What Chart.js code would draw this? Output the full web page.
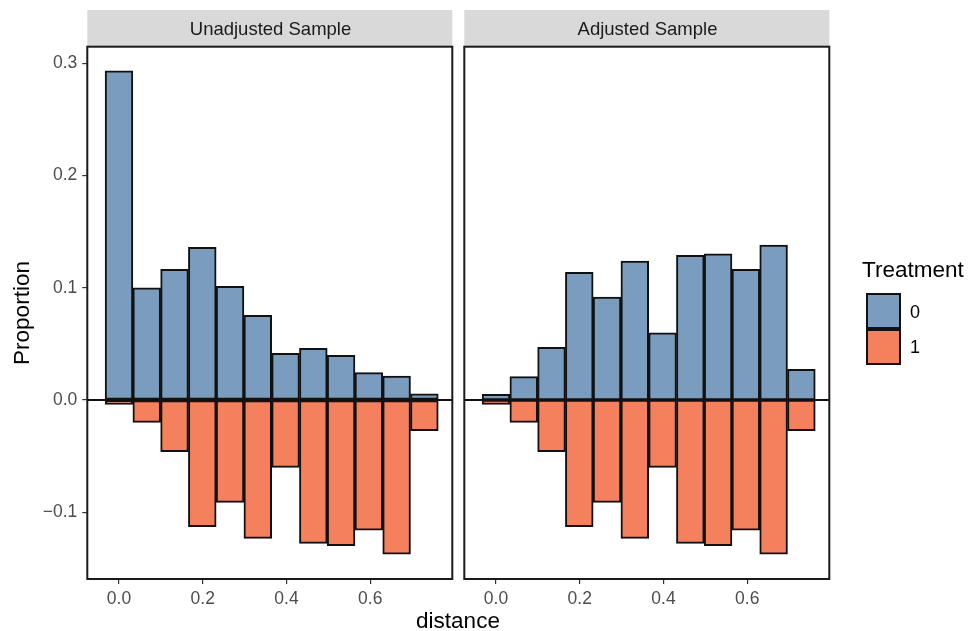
<!DOCTYPE html>
<html>
<head>
<meta charset="utf-8">
<script src="https://cdn.jsdelivr.net/npm/chart.js@4.4.1/dist/chart.umd.min.js"></script>
<style>
  body { margin: 0; background: #fff; }
  #wrap { position: relative; width: 971px; height: 631px; font-family: "Liberation Sans", Arial, sans-serif; }
  canvas { position: absolute; top: 0; }
  .txt { position: absolute; display: flex; align-items: center; justify-content: center; white-space: nowrap; }
  .strip { top: 10px; height: 37px; font-size: 18.5px; color: #1a1a1a; }
  .key { position: absolute; left: 866px; width: 35px; height: 36px; box-sizing: border-box; border: 2px solid #111; }
</style>
</head>
<body>
<div id="wrap">
  <canvas id="left" width="460" height="631" style="left:0"></canvas>
  <canvas id="right" width="511" height="631" style="left:460px"></canvas>

  <div class="txt strip" style="left:88px; width:365px">Unadjusted Sample</div>
  <div class="txt strip" style="left:465px; width:365px">Adjusted Sample</div>

  <div class="txt" style="left:-38px; top:298px; width:120px; height:30px; font-size:22.5px; transform:rotate(-90deg)">Proportion</div>
  <div class="txt" style="left:398px; top:607px; width:120px; height:28px; font-size:22.5px">distance</div>

  <div class="txt" style="left:862px; top:255px; height:30px; font-size:22.5px">Treatment</div>
  <div class="key" style="top:293px; background:#7A9DBF"></div>
  <div class="key" style="top:329px; background:#F5805E"></div>
  <div class="txt" style="left:910px; top:300px; height:24px; font-size:18px">0</div>
  <div class="txt" style="left:910px; top:335px; height:24px; font-size:18px">1</div>
</div>

<script>
// bin centres on the distance axis
const binCenters = [0, 0.0663, 0.1326, 0.1989, 0.2652, 0.3315, 0.3978, 0.4641, 0.5304, 0.5967, 0.6630, 0.7293];

// proportions per bin (treated drawn below zero)
const unadjControl = [0.2935, 0.1001, 0.1165, 0.1360, 0.1013, 0.0755, 0.0416, 0.0460, 0.0398, 0.0244, 0.0214, 0.0056];
const adjControl   = [0.0050, 0.0208, 0.0469, 0.1138, 0.0918, 0.1239, 0.0600, 0.1289, 0.1304, 0.1165, 0.1381, 0.0273];
const treated      = [-0.0039, -0.0199, -0.0460, -0.1129, -0.0912, -0.1233, -0.0600, -0.1277, -0.1298, -0.1159, -0.1373, -0.0273];

const xTicks = [0, 0.2, 0.4, 0.6];
const yTicks = [-0.1, 0, 0.1, 0.2, 0.3];

const blue = '#7A9DBF';
const orange = '#F5805E';

const fmt = v => v.toFixed(1).replace('-', '\u2212');

// strip background, zero line and panel border
const panelPlugin = {
  id: 'panel',
  beforeDraw(chart) {
    const { ctx, chartArea: a } = chart;
    ctx.save();
    ctx.fillStyle = '#D9D9D9';
    ctx.fillRect(a.left, 10, a.right - a.left, a.top - 10);
    ctx.restore();
  },
  afterDatasetsDraw(chart) {
    const { ctx, chartArea: a, scales } = chart;
    const y0 = scales.y.getPixelForValue(0);
    ctx.save();
    ctx.strokeStyle = '#111';
    ctx.lineWidth = 2;
    ctx.beginPath();
    ctx.moveTo(a.left, y0);
    ctx.lineTo(a.right, y0);
    ctx.stroke();
    ctx.strokeStyle = '#1a1a1a';
    ctx.lineWidth = 2;
    ctx.strokeRect(a.left, a.top, a.right - a.left, a.bottom - a.top);
    ctx.restore();
  }
};

function barSet(values, color) {
  return {
    data: values.map((v, i) => ({ x: binCenters[i], y: v })),
    backgroundColor: color,
    borderColor: '#111',
    borderWidth: 2,
    borderSkipped: false,
    grouped: false,
    barPercentage: 1,
    categoryPercentage: 1
  };
}

function makePanel(id, control, showY, padding) {
  return new Chart(document.getElementById(id), {
    type: 'bar',
    data: { datasets: [barSet(control, blue), barSet(treated, orange)] },
    options: {
      responsive: false,
      animation: false,
      layout: { padding: padding },
      plugins: { legend: { display: false }, tooltip: { enabled: false } },
      scales: {
        x: {
          type: 'linear',
          min: -0.0757,
          max: 0.796,
          offset: false,
          grid: { offset: false, drawOnChartArea: false, drawTicks: true, tickLength: 5, color: '#333', lineWidth: 1.2 },
          border: { display: false },
          afterBuildTicks: axis => { axis.ticks = xTicks.map(v => ({ value: v })); },
          afterFit: axis => { axis.height = 52; },
          ticks: {
            autoSkip: false,
            maxRotation: 0,
            padding: 5,
            color: '#4D4D4D',
            font: { family: 'Liberation Sans', size: 17.5 },
            callback: v => fmt(v)
          }
        },
        y: {
          display: showY,
          min: -0.1595,
          max: 0.3149,
          grid: { drawOnChartArea: false, drawTicks: true, tickLength: 5, color: '#333', lineWidth: 1.2 },
          border: { display: false },
          afterBuildTicks: axis => { axis.ticks = yTicks.map(v => ({ value: v })); },
          afterFit: axis => { axis.width = showY ? 87.3 : 0; },
          ticks: {
            autoSkip: false,
            padding: 5,
            color: '#4D4D4D',
            font: { family: 'Liberation Sans', size: 17.5 },
            callback: v => fmt(v)
          }
        }
      }
    },
    plugins: [panelPlugin]
  });
}

makePanel('left', unadjControl, true, { top: 46.7, right: 7.7, left: 0, bottom: 0 });
makePanel('right', adjControl, false, { top: 46.7, right: 141.7, left: 4.3, bottom: 0 });
</script>
</body>
</html>
